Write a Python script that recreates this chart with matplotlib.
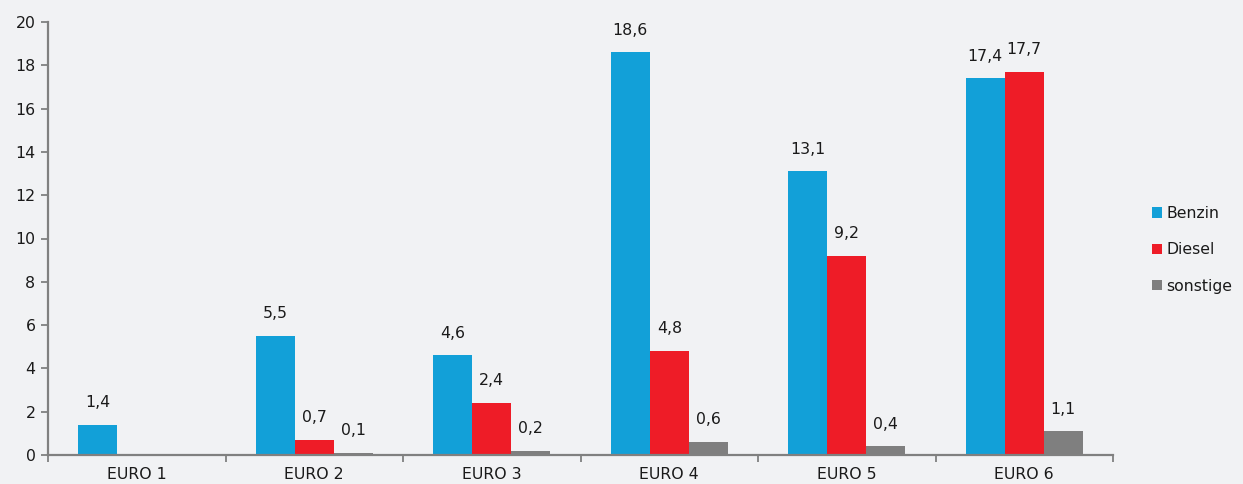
import matplotlib
matplotlib.use("Agg")
import matplotlib.pyplot as plt
import numpy as np

categories = ["EURO 1", "EURO 2", "EURO 3", "EURO 4", "EURO 5", "EURO 6"]
benzin = [1.4, 5.5, 4.6, 18.6, 13.1, 17.4]
diesel = [0.03, 0.7, 2.4, 4.8, 9.2, 17.7]
sonstige = [0.0, 0.1, 0.2, 0.6, 0.4, 1.1]
series_names = ["Benzin", "Diesel", "sonstige"]
colors = ["#12A0D8", "#EE1C27", "#7F7F7F"]
yticks = [0, 2, 4, 6, 8, 10, 12, 14, 16, 18, 20]

bg = "#F1F2F4"
axcol = "#808080"
plt.rcParams['font.family'] = ['DejaVu Sans']
fs = 11.3

fig = plt.figure(figsize=(12.43, 4.84), dpi=100, facecolor=bg)
ax = fig.add_axes([48/1243, 1-455/484, (1113-48)/1243, (455-22)/484], facecolor=bg)

x = np.arange(len(categories))
w = 0.22
for i, (vals, name, c) in enumerate(zip([benzin, diesel, sonstige], series_names, colors)):
    pos = x + (i - 1) * w
    ax.bar(pos, vals, width=w, color=c, label=name, linewidth=0)
    for p, v in zip(pos, vals):
        if round(v, 1) > 0:
            ax.annotate(f"{v:.1f}".replace(".", ","), (p, v), xytext=(0, 10.5),
                        textcoords="offset points", ha="center", va="bottom",
                        fontsize=fs, color="#1a1a1a", family="DejaVu Sans")

ax.set_xlim(-0.5, len(categories) - 0.5)
ax.set_ylim(0, 20)
ax.set_yticks(yticks)
ax.set_yticklabels([str(t) for t in yticks], fontsize=fs, color="#1a1a1a", family="DejaVu Sans")
ax.set_xticks(x)
ax.set_xticklabels(categories, fontsize=fs, color="#1a1a1a", family="DejaVu Sans")
ax.set_xticks(np.arange(-0.5, len(categories)), minor=True)
ax.tick_params(axis="x", which="major", length=0, pad=8.5)
ax.tick_params(axis="x", which="minor", length=5, color=axcol, width=1.3, direction="out")
ax.tick_params(axis="y", length=5, color=axcol, width=1.3, direction="out", pad=4)

for s in ["top", "right"]:
    ax.spines[s].set_visible(False)
for s in ["left", "bottom"]:
    ax.spines[s].set_color(axcol)
    ax.spines[s].set_linewidth(1.6)

leg = fig.legend(loc="upper left", bbox_to_anchor=(1138/1243, 1-192/484), frameon=False,
                 prop={"family": "DejaVu Sans", "size": fs}, handlelength=0.65,
                 handleheight=0.65, handletextpad=0.25, labelspacing=1.35)
for t in leg.get_texts():
    t.set_color("#1a1a1a")

fig.savefig("out.png", dpi=100, facecolor=bg)
